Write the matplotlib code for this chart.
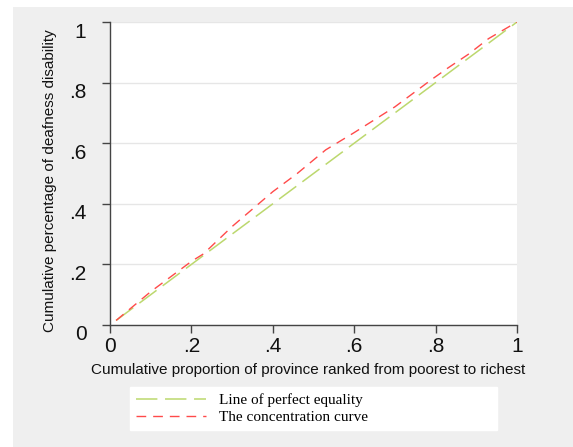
import matplotlib
matplotlib.use("Agg")
import matplotlib.pyplot as plt
import matplotlib.transforms as mtransforms
from matplotlib.patches import Rectangle

# data
eq_x = [0.015, 1.0]
eq_y = [0.015, 1.0]

cc_x = [0.015, 0.10, 0.16, 0.20, 0.23, 0.30, 0.40, 0.46, 0.53, 0.60, 0.70, 0.79, 0.83, 0.88, 0.93, 1.0]
cc_y = [0.015, 0.11, 0.17, 0.21, 0.235, 0.325, 0.44, 0.50, 0.578, 0.635, 0.72, 0.81, 0.848, 0.893, 0.945, 1.0]

ticks = [0, 0.2, 0.4, 0.6, 0.8, 1.0]
tick_labels = ["0", ".2", ".4", ".6", ".8", "1"]

W, H = 573, 447
fig = plt.figure(figsize=(W / 100, H / 100), dpi=100)
fig.patch.set_facecolor("white")
# grey panel behind the graph
fig.patches.append(Rectangle((13 / W, 0), 1, 1 - 7 / H, transform=fig.transFigure,
                             facecolor="#efefef", edgecolor="none", zorder=-10))

ax = fig.add_axes([110 / W, 1 - 325 / H, 407 / W, 303 / H])
ax.set_facecolor("white")

ax.plot(eq_x, eq_y, color="#bcd86e", lw=1.1, dashes=(14, 5), label="Line of perfect equality")
ax.plot(cc_x, cc_y, color="#ff4a4a", lw=1.0, dashes=(7, 5), label="The concentration curve")

ax.set_xlim(0, 1)
ax.set_ylim(0, 1)
ax.set_xticks(ticks)
ax.set_xticklabels(tick_labels)
ax.set_yticks(ticks)
ax.set_yticklabels(tick_labels)
ax.yaxis.grid(True, color="#e6e6e6", lw=1)
ax.set_axisbelow(True)

for s in ["top", "right"]:
    ax.spines[s].set_visible(False)
for s in ["left", "bottom"]:
    ax.spines[s].set_color("#444444")
    ax.spines[s].set_linewidth(1)

ax.tick_params(axis="both", direction="out", length=6, width=1, color="#444444",
               labelsize=15, labelcolor="#111111")
ax.tick_params(axis="x", pad=3)
ax.tick_params(axis="y", pad=11)
for lab in ax.get_xticklabels() + ax.get_yticklabels():
    lab.set_family("Liberation Sans")
# y tick labels sit a bit below their ticks in the reference
off = mtransforms.ScaledTranslation(0, -8 / 100, fig.dpi_scale_trans)
for lab in ax.get_yticklabels():
    lab.set_transform(lab.get_transform() + off)

ax.set_xlabel("Cumulative proportion of province ranked from poorest to richest",
              fontsize=11, family="Liberation Sans", color="#111111")
ax.set_ylabel("Cumulative percentage of deafness disability",
              fontsize=11, family="Liberation Sans", color="#111111")
ax.xaxis.set_label_coords(0.488, -0.148)
ax.xaxis.label.set_va("center")
ax.yaxis.set_label_coords(-0.147, 0.478)
ax.yaxis.label.set_va("center")

leg = fig.legend(loc="lower left",
                 bbox_to_anchor=(130 / W, 1 - 430 / H, 367 / W, 42 / H),
                 mode="expand", borderaxespad=0, handlelength=4.6, handletextpad=0.8,
                 labelspacing=0.2, prop={"family": "Liberation Serif", "size": 11},
                 frameon=True, fancybox=False, framealpha=1)
leg.get_frame().set_facecolor("white")
leg.get_frame().set_edgecolor("white")

fig.savefig("out.png", dpi=100)
